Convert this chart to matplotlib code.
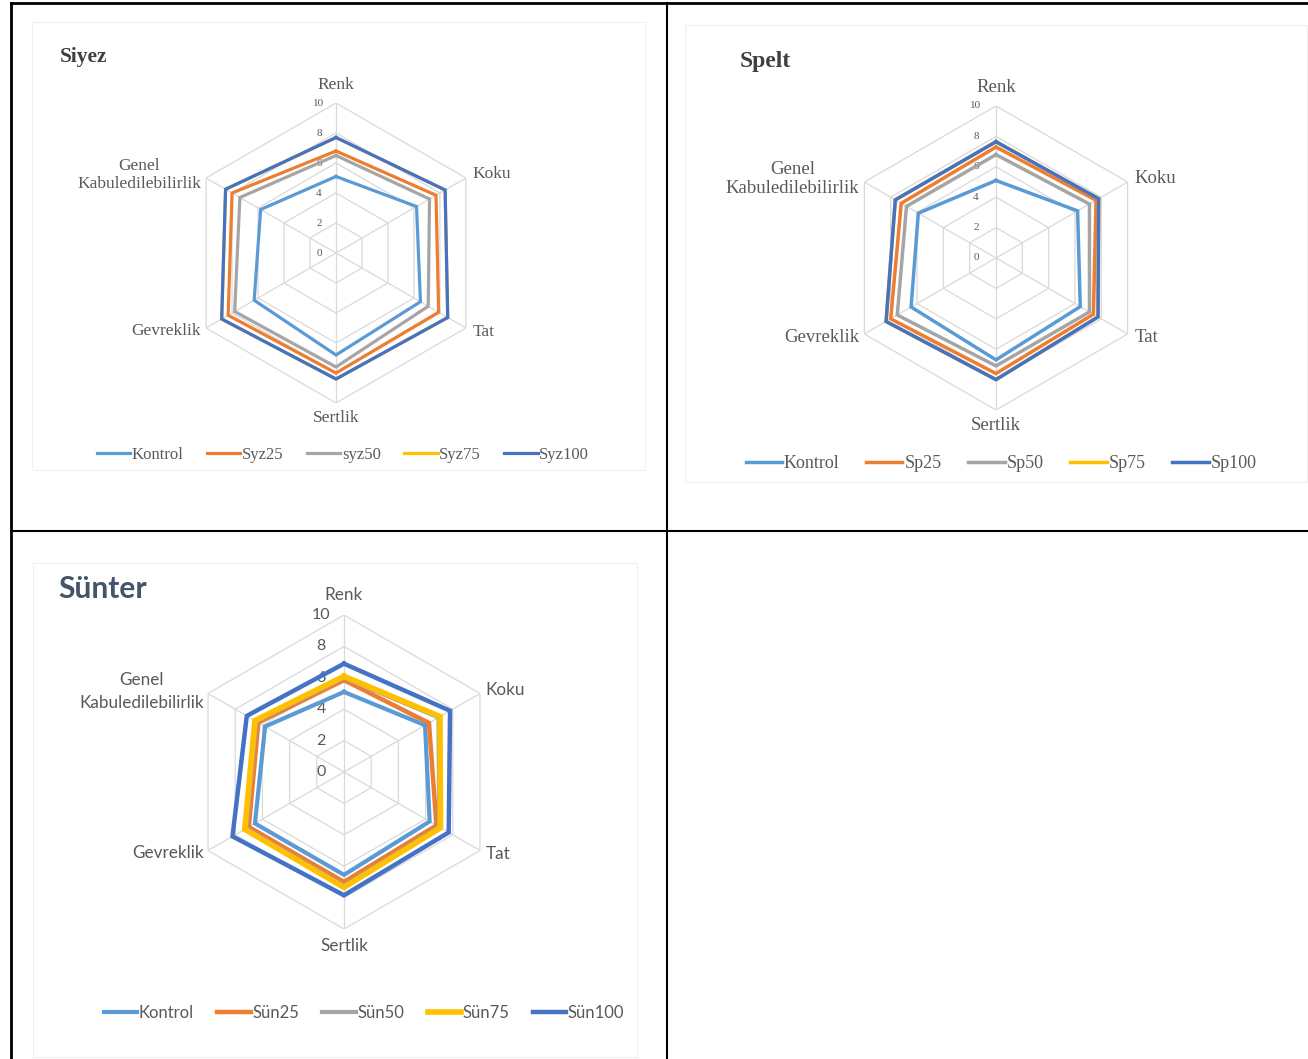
import numpy as np
import matplotlib
matplotlib.use('Agg')
import matplotlib.pyplot as plt
from matplotlib.lines import Line2D
from matplotlib.patches import Rectangle
from matplotlib.transforms import offset_copy

W, H = 1308, 1059

# Duyusal değerlendirme kriterleri
kriterler = ['Renk', 'Koku', 'Tat', 'Sertlik', 'Gevreklik', 'Genel\nKabuledilebilirlik']
skala = [0, 2, 4, 6, 8, 10]

# Siyez
siyez_seriler = ['Kontrol', 'Syz25', 'syz50', 'Syz75', 'Syz100']
siyez_kontrol = [5.1, 6.2, 6.5, 6.8, 6.3, 5.8]
siyez_25 = [6.8, 7.7, 7.9, 8.0, 8.3, 8.0]
siyez_50 = [6.5, 7.2, 7.1, 7.6, 7.8, 7.4]
siyez_75 = [7.7, 8.4, 8.6, 8.4, 8.8, 8.5]
siyez_100 = [7.7, 8.4, 8.6, 8.4, 8.8, 8.5]

# Spelt
spelt_seriler = ['Kontrol', 'Sp25', 'Sp50', 'Sp75', 'Sp100']
spelt_kontrol = [5.1, 6.2, 6.4, 6.7, 6.45, 5.9]
spelt_25 = [7.3, 7.6, 7.4, 7.6, 8.0, 7.2]
spelt_50 = [6.8, 7.1, 7.1, 7.1, 7.5, 6.8]
spelt_75 = [7.65, 7.8, 7.75, 8.0, 8.35, 7.65]
spelt_100 = [7.65, 7.8, 7.75, 8.0, 8.35, 7.65]

# Sünter
sunter_seriler = ['Kontrol', 'Sün25', 'Sün50', 'Sün75', 'Sün100']
sunter_kontrol = [5.1, 5.96, 6.3, 6.55, 6.55, 5.8]
sunter_25 = [5.85, 6.25, 6.8, 7.0, 7.0, 6.3]
sunter_50 = [6.0, 6.95, 7.0, 7.25, 7.2, 6.45]
sunter_75 = [6.1, 7.06, 7.1, 7.35, 7.3, 6.55]
sunter_100 = [6.9, 7.8, 7.7, 7.85, 8.2, 7.15]

renkler = ['#5B9BD5', '#ED7D31', '#A5A5A5', '#FFC000', '#4472C4']

fig = plt.figure(figsize=(W / 100, H / 100), dpi=100)


def px(x, y):
    return x / W, 1 - y / H


# Tablo çizgileri
for (x0, y0), (x1, y1), lw in [((11, 3), (1308, 3), 2), ((11, 3), (11, 1059), 2),
                                ((667, 3), (667, 1059), 1.5), ((11, 531), (1308, 531), 1.5)]:
    a, b = px(x0, y0)
    c, d = px(x1, y1)
    fig.add_artist(Line2D([a, c], [b, d], color='black', lw=lw))

# Grafik alanları
for x0, y0, x1, y1 in [(32, 22, 645, 470), (685, 25, 1307, 482), (33, 563, 637, 1057)]:
    a, b = px(x0, y1)
    fig.add_artist(Rectangle((a, b), (x1 - x0) / W, (y1 - y0) / H, fill=False,
                             edgecolor='#F0F0F0', lw=0.8))


def radar(cx, cy, r10, degerler, seriler, genislik, font, etiket_boy, sayi_boy,
          sayi_renk, sayi_kayma, etiket_r, leg_xy, leg_boy, leg_aralik,
          satir=1.1, kalin=None):
    ax = fig.add_axes([(cx - r10) / W, 1 - (cy + r10) / H, 2 * r10 / W, 2 * r10 / H],
                      projection='polar')
    ax.set_theta_zero_location('N')
    ax.set_theta_direction(-1)
    ax.set_ylim(0, 10)
    ax.set_axis_off()
    aci = np.linspace(0, 2 * np.pi, len(kriterler), endpoint=False)
    kapali = np.append(aci, aci[0])

    # altıgen ızgara
    for s in skala[1:]:
        ax.plot(kapali, [s] * len(kapali), color='#D9D9D9', lw=0.9, zorder=1)
    for a in aci:
        ax.plot([a, a], [0, 10], color='#D9D9D9', lw=0.9, zorder=1)

    tr = offset_copy(ax.transData, fig=fig, x=sayi_kayma, y=0, units='dots')
    for s in skala:
        ax.text(0, s, str(s), transform=tr, ha='center', va='center',
                fontsize=sayi_boy, color=sayi_renk, family=font, zorder=2)

    hizalar = [('center', 'center'), ('left', 'center'), ('left', 'center'),
               ('center', 'center'), ('right', 'center'), ('right', 'center')]
    for a, k, (ha, va), r in zip(aci, kriterler, hizalar, etiket_r):
        ax.text(a, r, k, ha=ha, va=va, fontsize=etiket_boy, family=font,
                color='#595959', multialignment='center', linespacing=satir)

    cizgiler = []
    for i, (ad, d) in enumerate(zip(seriler, degerler)):
        lw = genislik if kalin is None else kalin[i]
        ln, = ax.plot(kapali, d + d[:1], color=renkler[i], lw=lw, label=ad, zorder=3 + i,
                      solid_joinstyle='miter')
        cizgiler.append(ln)
    lx, ly = px(*leg_xy)
    ax.legend(handles=cizgiler, loc='center', bbox_to_anchor=(lx, ly),
              bbox_transform=fig.transFigure, ncol=5, frameon=False,
              handlelength=2.0, handletextpad=0.1, columnspacing=leg_aralik,
              prop={'family': font, 'size': leg_boy}, labelcolor='#595959')
    return ax


serif = 'Liberation Serif'
sans = 'Lato'

radar(336, 253, 150,
      [siyez_kontrol, siyez_25, siyez_50, siyez_75, siyez_100], siyez_seriler,
      2.3, serif, 12.5, 8, '#595959', -17,
      [11.2, 10.5, 10.5, 11.0, 10.4, 10.4], (343, 455), 12, 1.4)
fig.text(*px(60, 57), 'Siyez', family=serif, fontsize=15.5, fontweight='bold',
         color='#404040', va='center', ha='left')

radar(996, 258, 152,
      [spelt_kontrol, spelt_25, spelt_50, spelt_75, spelt_100], spelt_seriler,
      2.5, serif, 13.5, 8, '#595959', -20,
      [11.2, 10.5, 10.5, 11.0, 10.4, 10.4], (1001, 464), 13, 1.5)
fig.text(*px(740, 62), 'Spelt', family=serif, fontsize=17, fontweight='bold',
         color='#404040', va='center', ha='left')

radar(344, 772, 157,
      [sunter_kontrol, sunter_25, sunter_50, sunter_75, sunter_100], sunter_seriler,
      3, sans, 12.3, 11.5, '#595959', -23,
      [11.3, 10.4, 10.4, 11.1, 10.3, 10.3], (364, 1013), 12, 1.4,
      satir=1.55, kalin=[3, 3.2, 3, 4, 3.2])
fig.text(*px(58, 589), 'Sünter', family=sans, fontsize=21.5, fontweight='bold',
         color='#44546A', va='center', ha='left')

fig.savefig('out.png', dpi=100)
